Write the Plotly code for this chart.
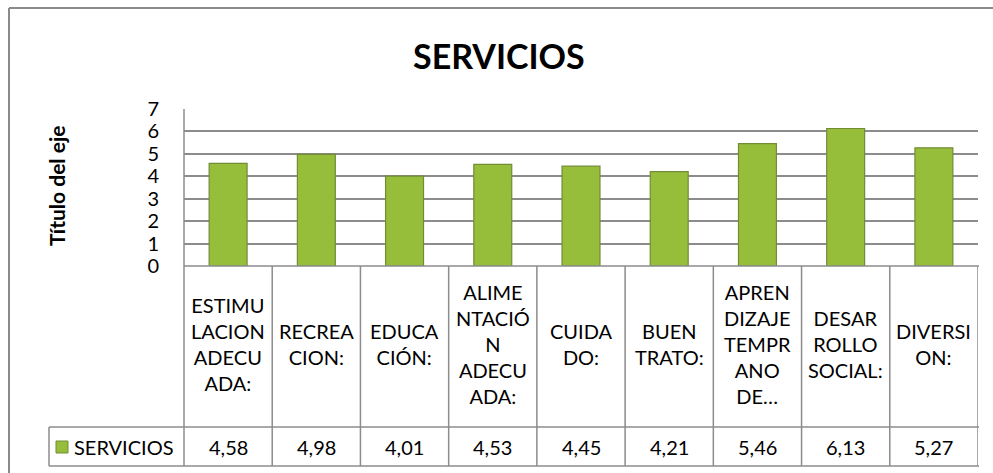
import plotly.graph_objects as go

categories = ["ESTIMULACION ADECUADA:", "RECREACION:", "EDUCACIÓN:", "ALIMENTACIÓN ADECUADA:",
              "CUIDADO:", "BUEN TRATO:", "APRENDIZAJE TEMPRANO DE...", "DESARROLLO SOCIAL:", "DIVERSION:"]
category_labels = ["ESTIMU<br>LACION<br>ADECU<br>ADA:", "RECREA<br>CION:", "EDUCA<br>CIÓN:",
                   "ALIME<br>NTACIÓ<br>N<br>ADECU<br>ADA:", "CUIDA<br>DO:", "BUEN<br>TRATO:",
                   "APREN<br>DIZAJE<br>TEMPR<br>ANO<br>DE…", "DESAR<br>ROLLO<br>SOCIAL:", "DIVERSI<br>ON:"]
values = [4.58, 4.98, 4.01, 4.53, 4.45, 4.21, 5.46, 6.13, 5.27]
series_name = "SERVICIOS"
y_ticks = [0, 1, 2, 3, 4, 5, 6, 7]

W, H = 993, 473
L, R, T, B = 184, 978, 109, 266   # screen coordinates of plot area
FONT = "Lato"
GRID = "#8c8c8c"


def px(X):
    return (X - L) / (R - L)


def py(Y):
    return (B - Y) / (B - T)


xs = list(range(len(categories)))

fig = go.Figure()
fig.add_trace(go.Bar(
    x=xs, y=values, name=series_name,
    marker=dict(color="#96BE3A", line=dict(color="#728c36", width=1.2)),
    width=0.43, showlegend=False, hoverinfo="y",
))

shapes = []
annotations = []

# outer chart border (only top and left edges are inside the picture)
shapes.append(dict(type="line", xref="paper", yref="paper", x0=px(9), x1=px(993),
                   y0=py(8), y1=py(8), line=dict(color="#8a8a8a", width=2)))
shapes.append(dict(type="line", xref="paper", yref="paper", x0=px(9), x1=px(9),
                   y0=py(8), y1=py(473), line=dict(color="#8a8a8a", width=2)))

row1_bottom = 427
row2_bottom = 466
legend_left = 49
table_right = 979

# table horizontal lines
shapes.append(dict(type="line", xref="paper", yref="paper", x0=px(L), x1=px(table_right),
                   y0=py(B), y1=py(B), line=dict(color=GRID, width=1.5)))
for yy in (row1_bottom, row2_bottom):
    shapes.append(dict(type="line", xref="paper", yref="paper", x0=px(legend_left), x1=px(table_right),
                       y0=py(yy), y1=py(yy), line=dict(color=GRID, width=1.5)))
# legend cell left edge
shapes.append(dict(type="line", xref="paper", yref="paper", x0=px(legend_left), x1=px(legend_left),
                   y0=py(row1_bottom), y1=py(row2_bottom), line=dict(color=GRID, width=1.5)))
# axis line down through table
shapes.append(dict(type="line", xref="paper", yref="paper", x0=0, x1=0,
                   y0=py(T), y1=py(row2_bottom), line=dict(color=GRID, width=1.5)))
# category boundaries
for i in range(1, len(categories) + 1):
    shapes.append(dict(type="line", xref="x", yref="paper", x0=i - 0.5, x1=i - 0.5,
                       y0=py(B), y1=py(row2_bottom), line=dict(color=GRID, width=1.5)))

# category labels and values
for i, (lab, v) in enumerate(zip(category_labels, values)):
    annotations.append(dict(x=i, y=py((B + row1_bottom) / 2 - 3), xref="x", yref="paper",
                            text=lab, showarrow=False, align="center",
                            font=dict(family=FONT, size=20, color="black"),
                            xanchor="center", yanchor="middle"))
    annotations.append(dict(x=i, y=py((row1_bottom + row2_bottom) / 2), xref="x", yref="paper",
                            text=f"{v:.2f}".replace(".", ","), showarrow=False,
                            font=dict(family=FONT, size=20, color="black"),
                            xanchor="center", yanchor="middle"))

# legend key in table
shapes.append(dict(type="rect", xref="paper", yref="paper", x0=px(56), x1=px(68),
                   y0=py(441), y1=py(453), fillcolor="#96BE3A",
                   line=dict(color="#728c36", width=1)))
annotations.append(dict(x=px(72), y=py((row1_bottom + row2_bottom) / 2), xref="paper", yref="paper",
                        text=series_name, showarrow=False, xanchor="left", yanchor="middle",
                        font=dict(family=FONT, size=20, color="black")))

# title
annotations.append(dict(x=px(499), y=py(55), xref="paper", yref="paper", text="<b>SERVICIOS</b>",
                        showarrow=False, xanchor="center", yanchor="middle",
                        font=dict(family=FONT, size=34, color="black")))
# axis title
annotations.append(dict(x=px(56), y=py(186), xref="paper", yref="paper", text="<b>Título del eje</b>",
                        showarrow=False, textangle=-90, xanchor="center", yanchor="middle",
                        font=dict(family=FONT, size=21, color="black")))

fig.update_layout(
    width=W, height=H,
    margin=dict(l=L, r=W - R, t=T, b=H - B, pad=0),
    paper_bgcolor="white", plot_bgcolor="white",
    shapes=shapes, annotations=annotations,
    xaxis=dict(range=[-0.5, len(categories) - 0.5], showticklabels=False, showgrid=False,
               zeroline=False, showline=False, ticks="", fixedrange=True),
    yaxis=dict(range=[0, 7], tickvals=y_ticks, showgrid=True, gridcolor=GRID, gridwidth=1.5,
               zeroline=False, showline=False, ticks="", ticklabelstandoff=24,
               tickfont=dict(family=FONT, size=20, color="black"), fixedrange=True),
    font=dict(family=FONT),
)

fig.write_html("out.html", config={"displayModeBar": False},
               post_script="document.body.style.margin='0';document.body.style.overflow='hidden';")
